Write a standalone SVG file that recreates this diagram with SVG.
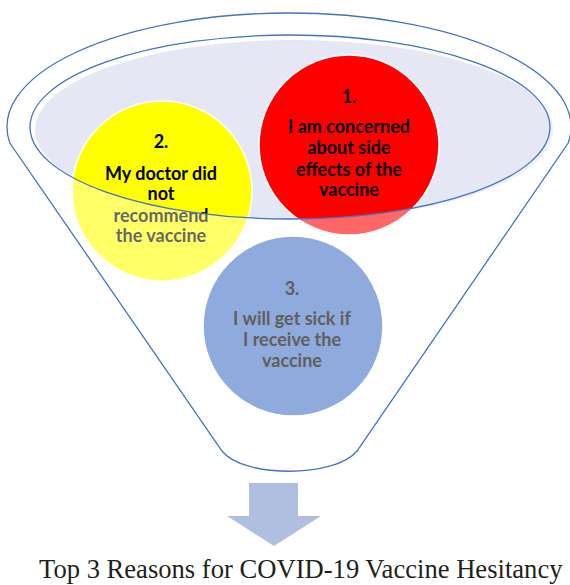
<svg xmlns="http://www.w3.org/2000/svg" width="570" height="585" viewBox="0 0 570 585">
<style>
.lbl{font-family:Lato,"Open Sans","Liberation Sans",sans-serif;font-weight:700;font-size:18px;text-anchor:middle}
.blk{fill:#000}
.gry{fill:#5f5f5f}
.edge{fill:none;stroke:#4472c4;stroke-width:1.3}
.node{stroke:#ffffff;stroke-width:1.5}
.title{font-family:"Liberation Serif","Times New Roman",serif;font-size:26.6px;fill:#231f20}
</style>
<defs>
<path id="funnelShape" d="M9.8,143 A282,114 0 1 1 568.2,143 L357,451 C335,478 243,478 222,451 Z"/>
</defs>
<rect width="570" height="585" fill="#ffffff"/>
<g id="funnel">
<use href="#funnelShape" fill="#ffffff"/>
<ellipse cx="294" cy="130" rx="259" ry="90" fill="#e5e8f4"/>
</g>
<g id="n2">
<circle class="node" cx="162" cy="191" r="90" fill="#ffff00"/>
<text class="lbl blk" x="161" y="148">2.</text>
<text class="lbl blk" x="161" y="180">My doctor did</text>
<text class="lbl blk" x="161" y="200">not</text>
<text class="lbl blk" x="161" y="222">recommend</text>
<text class="lbl blk" x="161" y="242">the vaccine</text>
</g>
<g id="n1">
<circle class="node" cx="349" cy="145" r="90" fill="#ff0000"/>
<text class="lbl blk" x="349" y="103">1.</text>
<text class="lbl blk" x="349" y="133">I am concerned</text>
<text class="lbl blk" x="349" y="154">about side</text>
<text class="lbl blk" x="349" y="176">effects of the</text>
<text class="lbl blk" x="349" y="196">vaccine</text>
</g>
<g id="overlay">
<path d="M0,0H570V480H0Z M30,127 A260,92 0 1 0 550,127 A260,92 0 1 0 30,127 Z" fill="#ffffff" fill-opacity="0.4" fill-rule="evenodd"/>
<ellipse class="edge" cx="290" cy="127" rx="260" ry="92"/>
<use href="#funnelShape" class="edge"/>
</g>
<g id="n3">
<circle class="node" cx="293" cy="326" r="90" fill="#8faadc"/>
<text class="lbl gry" x="292" y="295">3.</text>
<text class="lbl gry" x="292" y="325">I will get sick if</text>
<text class="lbl gry" x="292" y="346">I receive the</text>
<text class="lbl gry" x="292" y="367">vaccine</text>
</g>
<g id="connectors">
<path d="M249,483 H298 V516 H321 L274,546 L227,516 H249 Z" fill="#b0bee0"/>
</g>
<g id="caption">
<text class="title" x="39" y="578">Top 3 Reasons for COVID-19 Vaccine Hesitancy</text>
</g>
</svg>
